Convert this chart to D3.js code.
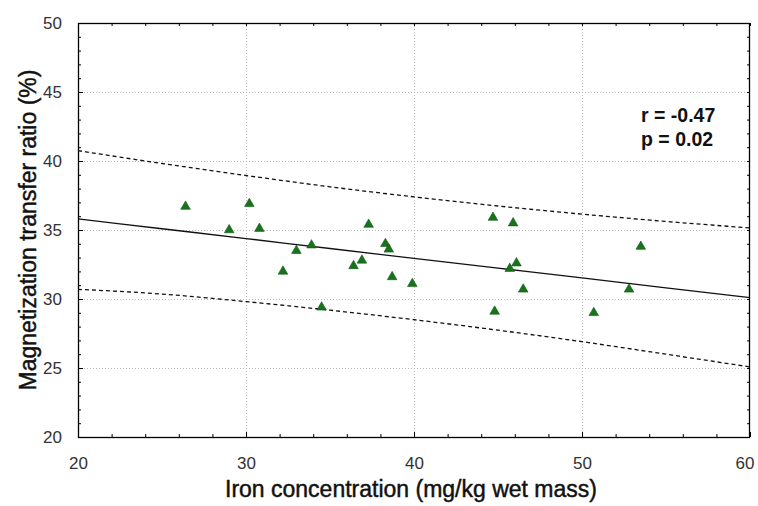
<!DOCTYPE html>
<html>
<head>
<meta charset="utf-8">
<script src="https://cdn.jsdelivr.net/npm/d3@7"></script>
<style>
  html, body { margin: 0; padding: 0; background: #fff; }
  svg { display: block; font-family: Arial, "Liberation Sans", sans-serif; }
</style>
</head>
<body>
<svg id="chart" width="758" height="506"></svg>
<script>
// Iron concentration (mg/kg wet mass) per sample
const ironValues = [26.4, 29.0, 30.2, 30.8, 32.2, 33.0, 33.9, 34.5, 36.4, 36.9, 37.3, 38.3,
                    38.5, 38.7, 39.9, 44.7, 44.8, 45.9, 45.7, 46.1, 46.5, 50.7, 52.8, 53.5];
// Magnetization transfer ratio (%) per sample
const mtrValues = [36.7, 35.0, 36.9, 35.1, 32.0, 33.5, 33.9, 29.4, 32.4, 32.8, 35.4, 34.0,
                   33.6, 31.6, 31.1, 35.9, 29.1, 35.5, 32.2, 32.6, 30.7, 29.0, 30.7, 33.8];

// Fitted line and its 95% band, sampled along the x range
const fitX     = [20, 25, 30, 35, 40, 45, 50, 55, 60];
const fitY     = [35.80, 35.09, 34.38, 33.66, 32.95, 32.24, 31.53, 30.81, 30.10];
const bandHigh = [40.75, 39.82, 38.95, 38.13, 37.40, 36.74, 36.15, 35.62, 35.15];
const bandLow  = [30.70, 30.36, 29.81, 29.19, 28.50, 27.74, 26.91, 26.00, 25.08];

const xTicks = [20, 30, 40, 50, 60];
const yTicks = [20, 25, 30, 35, 40, 45, 50];
const statLines = ["r = -0.47", "p = 0.02"];

const plotL = 78, plotR = 750, plotT = 23, plotB = 437;
const svg = d3.select("#chart");
svg.append("rect").attr("width", 758).attr("height", 506).attr("fill", "#fff");

const x = d3.scaleLinear().domain([20, 60]).range([plotL, plotR]);
const y = d3.scaleLinear().domain([20, 50]).range([plotB, plotT]);

// dotted grid at the labelled ticks
const grid = svg.append("g").attr("stroke", "#b8b8b8").attr("stroke-width", 1)
  .attr("stroke-dasharray", "1,2").attr("shape-rendering", "crispEdges");
xTicks.slice(1, -1).forEach(t => grid.append("line")
  .attr("x1", Math.round(x(t)) + 0.5).attr("x2", Math.round(x(t)) + 0.5)
  .attr("y1", plotT).attr("y2", plotB));
yTicks.slice(1, -1).forEach(t => grid.append("line")
  .attr("y1", Math.round(y(t)) + 0.5).attr("y2", Math.round(y(t)) + 0.5)
  .attr("x1", plotL).attr("x2", plotR));

// axes: ticks point inward on all four sides
const minorX = d3.range(20, 61, 2);
const minorY = d3.range(20, 51, 1);
function styleAxis(g) {
  g.select(".domain").remove();
  g.selectAll("line").attr("stroke", "#000");
  g.selectAll("text").attr("fill", "#333").attr("font-size", "17px");
}
svg.append("g").attr("transform", `translate(0,${plotB})`)
  .call(d3.axisBottom(x).tickValues(minorX).tickSize(-3).tickFormat(""))
  .call(styleAxis);
const xAxisG = svg.append("g").attr("transform", `translate(0,${plotB})`)
  .call(d3.axisBottom(x).tickValues(xTicks).tickSize(-5).tickPadding(20).tickFormat(d3.format("d")))
  .call(styleAxis);
// keep the last label inside the canvas
xAxisG.selectAll(".tick").filter(d => d === 60).select("text")
  .attr("text-anchor", "end").attr("dx", "4");
svg.append("g").attr("transform", `translate(0,${plotT})`)
  .call(d3.axisTop(x).tickValues(minorX).tickSize(-3).tickFormat(""))
  .call(styleAxis);
svg.append("g").attr("transform", `translate(${plotL},0)`)
  .call(d3.axisLeft(y).tickValues(minorY).tickSize(-3).tickFormat(""))
  .call(styleAxis);
svg.append("g").attr("transform", `translate(${plotL},0)`)
  .call(d3.axisLeft(y).tickValues(yTicks).tickSize(-5).tickPadding(16).tickFormat(d3.format("d")))
  .call(styleAxis);
svg.append("g").attr("transform", `translate(${plotR},0)`)
  .call(d3.axisRight(y).tickValues(minorY).tickSize(-3).tickFormat(""))
  .call(styleAxis);

// frame
svg.append("rect").attr("x", plotL + 0.5).attr("y", plotT + 0.5)
  .attr("width", plotR - plotL - 1).attr("height", plotB - plotT)
  .attr("fill", "none").attr("stroke", "#000").attr("stroke-width", 1.3);

// fitted line and band
const line = d3.line().x(d => x(d[0])).y(d => y(d[1])).curve(d3.curveMonotoneX);
svg.append("path").datum(fitX.map((v, i) => [v, fitY[i]]))
  .attr("d", line).attr("fill", "none").attr("stroke", "#111").attr("stroke-width", 1.3);
[bandHigh, bandLow].forEach(arr => svg.append("path")
  .datum(fitX.map((v, i) => [v, arr[i]]))
  .attr("d", line).attr("fill", "none").attr("stroke", "#111")
  .attr("stroke-width", 1.3).attr("stroke-dasharray", "4,3"));

// samples
const tri = d3.symbol().type(d3.symbolTriangle).size(40);
svg.append("g").selectAll("path").data(ironValues).join("path")
  .attr("d", tri)
  .attr("transform", (d, i) => `translate(${x(d)},${y(mtrValues[i])})`)
  .attr("fill", "#18731c").attr("stroke", "#0e5a12").attr("stroke-width", 0.6);

// statistics
svg.append("g").selectAll("text").data(statLines).join("text")
  .attr("x", 641).attr("y", (d, i) => 122 + i * 24)
  .attr("font-size", "19.5px").attr("font-weight", "bold").attr("fill", "#111")
  .text(d => d);

// axis titles
svg.append("text").attr("x", 411).attr("y", 497).attr("text-anchor", "middle")
  .attr("font-size", "23px").attr("fill", "#111")
  .attr("stroke", "#111").attr("stroke-width", 0.45)
  .text("Iron concentration (mg/kg wet mass)");
svg.append("text").attr("transform", "translate(36,230) rotate(-90)").attr("text-anchor", "middle")
  .attr("font-size", "23px").attr("fill", "#111")
  .attr("stroke", "#111").attr("stroke-width", 0.45)
  .text("Magnetization transfer ratio (%)");
</script>
</body>
</html>
